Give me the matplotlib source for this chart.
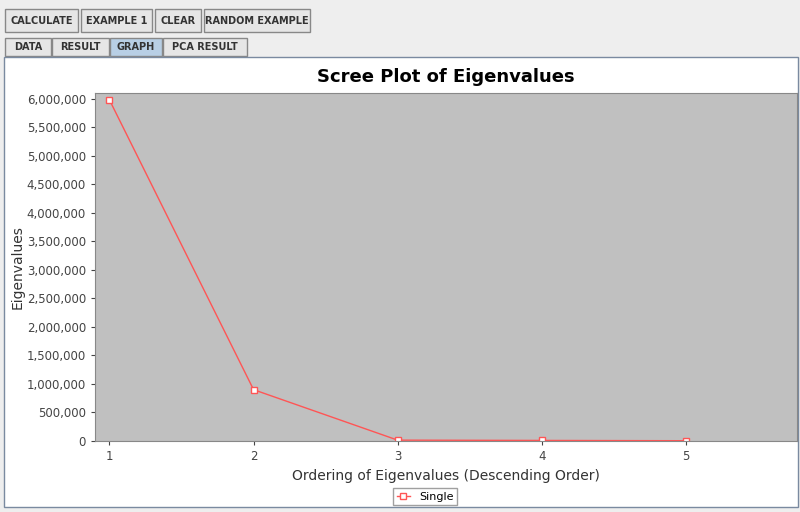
import matplotlib.pyplot as plt
from matplotlib.patches import Rectangle
from matplotlib.ticker import FuncFormatter

order = [1, 2, 3, 4, 5]
eigenvalues = [5980000, 900000, 15000, 10000, 5000]
buttons = ["CALCULATE", "EXAMPLE 1", "CLEAR", "RANDOM EXAMPLE"]
tabs = ["DATA", "RESULT", "GRAPH", "PCA RESULT"]

W, H = 800, 512
fig = plt.figure(figsize=(W / 100, H / 100), dpi=100)
fig.patch.set_facecolor("#eeeeee")

def px(x, y, w, h):
    # pixel box (top-left origin) -> figure fraction
    return [x / W, 1 - (y + h) / H, w / W, h / H]

bg = fig.add_axes([0, 0, 1, 1])
bg.set_xlim(0, W)
bg.set_ylim(H, 0)
bg.axis("off")

# toolbar buttons
bx = [5, 81, 155, 204]
bw = [73, 71, 46, 106]
for b, x0, w in zip(buttons, bx, bw):
    bg.add_patch(Rectangle((x0, 9), w, 23, fc="#e6e6e6", ec="#888888", lw=1))
    bg.text(x0 + w / 2, 21, b, ha="center", va="center", fontsize=7, weight="bold", color="#333333")

# tabs
tx = [5, 52, 110, 163]
tw = [46, 57, 52, 84]
for t, x0, w in zip(tabs, tx, tw):
    fc = "#b8cfe5" if t == "GRAPH" else "#e6e6e6"
    bg.add_patch(Rectangle((x0, 38), w, 18, fc=fc, ec="#888888", lw=1))
    bg.text(x0 + w / 2, 47, t, ha="center", va="center", fontsize=7, weight="bold", color="#333333")

# white chart panel
bg.add_patch(Rectangle((4, 57), 794, 450, fc="white", ec="#7a8aa0", lw=1))

ax = fig.add_axes(px(95, 93, 702, 348))
ax.set_facecolor("#c0c0c0")
ax.plot(order, eigenvalues, color="#ff5555", lw=1, marker="s", ms=5,
        mfc="white", mec="#ff5555", mew=1, label="Single")
ax.set_xlim(0.9, 5.77)
ax.set_ylim(0, 6100000)
ax.set_xticks(order)
ax.set_yticks(range(0, 6000001, 500000))
ax.yaxis.set_major_formatter(FuncFormatter(lambda v, p: f"{int(v):,}"))
ax.tick_params(labelsize=8.5, colors="#444444", length=3)
for s in ax.spines.values():
    s.set_color("#888888")
ax.set_title("Scree Plot of Eigenvalues", fontsize=13, weight="bold", pad=8)
ax.set_xlabel("Ordering of Eigenvalues (Descending Order)", fontsize=10, color="#333333")
ax.set_ylabel("Eigenvalues", fontsize=10, color="#333333")
ax.yaxis.set_label_coords(-0.1, 0.5)
ax.legend(loc="upper center", bbox_to_anchor=(0.47, -0.12), fontsize=8,
          frameon=True, fancybox=False, edgecolor="#888888", handlelength=1.2,
          borderpad=0.3)

fig.savefig("out.png", dpi=100, facecolor=fig.get_facecolor())
